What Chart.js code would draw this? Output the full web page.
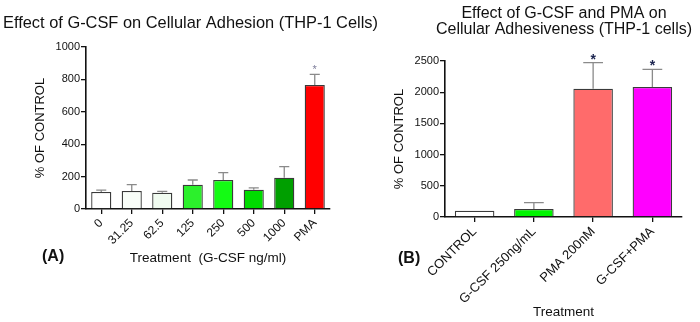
<!DOCTYPE html>
<html lang="en">
<head>
<meta charset="UTF-8">
<title>Effect of G-CSF on Cellular Adhesion</title>
<script src="https://cdn.jsdelivr.net/npm/chart.js"></script>
<style>
  body { margin: 0; background: #fff; }
  #wrap { position: relative; width: 700px; height: 322px; overflow: hidden; }
  .panel { position: absolute; top: 0; }
</style>
</head>
<body>
<div id="wrap">
  <div class="panel" style="left:0px"><canvas id="chartA" width="400" height="322"></canvas></div>
  <div class="panel" style="left:350px"><canvas id="chartB" width="350" height="322"></canvas></div>
</div>
<script>
// panel A: G-CSF dose series
const doseLabels = ['0', '31.25', '62.5', '125', '250', '500', '1000', 'PMA'];
const doseMeans = [105, 111, 100, 150, 179, 119, 193, 765];
const doseErrors = [12, 39, 9, 29, 45, 11, 68, 66];
const doseStars = ['', '', '', '', '', '', '', '*'];
const doseTicks = [0, 200, 400, 600, 800, 1000];

// panel B: G-CSF vs PMA
const treatLabels = ['CONTROL', 'G-CSF 250ng/mL', 'PMA 200nM', 'G-CSF+PMA'];
const treatMeans = [100, 128, 2055, 2085];
const treatErrors = [0, 103, 420, 280];
const treatStars = ['', '', '*', '*'];
const treatTicks = [0, 500, 1000, 1500, 2000, 2500];

const doseColors = ['#ffffff', '#f8fdf8', '#f0fbf0', '#2cf02c', '#14fb14', '#00dc00', '#009f00', '#ff0000'];
const treatColors = ['#ffffff', '#00f500', '#ff6b6b', '#ff00ff'];

Chart.defaults.font.family = '"Liberation Sans", Arial, sans-serif';
Chart.defaults.color = '#111';

// error bars (upper only), significance stars and free text
const annotate = {
  id: 'annotate',
  afterDatasetsDraw(chart, args, o) {
    const ctx = chart.ctx;
    const y = chart.scales.y;
    const ds = chart.data.datasets[0];
    const meta = chart.getDatasetMeta(0);
    ctx.save();
    meta.data.forEach((bar, i) => {
      const err = o.errors[i];
      const top = y.getPixelForValue(ds.data[i] + err);
      if (err > 0) {
        const half = bar.width * o.cap / 2;
        ctx.strokeStyle = '#8a8a8a';
        ctx.lineWidth = 1.3;
        ctx.beginPath();
        ctx.moveTo(bar.x, bar.y);
        ctx.lineTo(bar.x, top);
        ctx.moveTo(bar.x - half, top);
        ctx.lineTo(bar.x + half, top);
        ctx.stroke();
      }
      if (o.stars[i]) {
        ctx.fillStyle = o.starColor;
        ctx.font = o.starFont;
        ctx.textAlign = 'center';
        ctx.textBaseline = 'alphabetic';
        ctx.fillText(o.stars[i], bar.x, top + o.starShift);
      }
    });
    ctx.fillStyle = '#111';
    ctx.textBaseline = 'alphabetic';
    o.texts.forEach(t => {
      ctx.font = t.font;
      ctx.textAlign = t.align;
      ctx.fillText(t.text, t.x, t.y);
    });
    ctx.restore();
  }
};

function axes(ticks, yWidth, xHeight, xTitlePad, xFont) {
  return {
    x: {
      offset: true,
      afterFit: s => { s.height = xHeight; },
      border: { display: true, color: '#111', width: 1.6 },
      grid: { display: true, offset: false, drawOnChartArea: false, drawTicks: true, tickLength: 5, color: '#111', lineWidth: 1.3 },
      ticks: { minRotation: 45, maxRotation: 45, autoSkip: false, padding: 2, font: { size: xFont }, color: '#111' },
      title: { display: true, font: { size: 13.5 }, color: '#111', padding: { top: 4, bottom: xTitlePad } }
    },
    y: {
      min: ticks[0],
      max: ticks[ticks.length - 1],
      afterFit: s => { s.width = yWidth; },
      afterBuildTicks: s => { s.ticks = ticks.map(v => ({ value: v })); },
      border: { display: true, color: '#111', width: 1.6 },
      grid: { display: true, drawOnChartArea: false, drawTicks: true, tickLength: 5, color: '#111', lineWidth: 1.3 },
      ticks: { padding: 1, font: { size: 11 }, color: '#111', callback: v => String(v) },
      title: { display: true, text: '% OF CONTROL', font: { size: 13 }, color: '#111', padding: { top: 4, bottom: 4 } }
    }
  };
}

const chartA = new Chart(document.getElementById('chartA'), {
  type: 'bar',
  data: {
    labels: doseLabels,
    datasets: [{
      data: doseMeans,
      backgroundColor: doseColors,
      borderColor: '#3a3a3a',
      borderWidth: 1.3,
      barPercentage: 0.66,
      categoryPercentage: 1
    }]
  },
  options: {
    responsive: false,
    animation: false,
    layout: { padding: { left: 29, right: 70, top: 47, bottom: 52 } },
    scales: axes(doseTicks, 57, 61, 4, 12),
    plugins: {
      legend: { display: false },
      tooltip: { enabled: false },
      annotate: {
        errors: doseErrors,
        stars: doseStars,
        cap: 0.5,
        starColor: '#7d7d9a',
        starFont: '11px "Liberation Sans", Arial',
        starShift: -1.5,
        texts: [
          { text: 'Effect of G-CSF on Cellular Adhesion (THP-1 Cells)', x: 3, y: 28, align: 'left', font: '16.4px "Liberation Sans", Arial' },
          { text: '(A)', x: 42, y: 261, align: 'left', font: 'bold 16px "Liberation Sans", Arial' }
        ]
      }
    }
  },
  plugins: [annotate]
});
chartA.options.scales.x.title.text = 'Treatment  (G-CSF ng/ml)';
chartA.update();

const chartB = new Chart(document.getElementById('chartB'), {
  type: 'bar',
  data: {
    labels: treatLabels,
    datasets: [{
      data: treatMeans,
      backgroundColor: treatColors,
      borderColor: '#3a3a3a',
      borderWidth: 1.3,
      barPercentage: 0.667,
      categoryPercentage: 1
    }]
  },
  options: {
    responsive: false,
    animation: false,
    layout: { padding: { left: 38, right: 18, top: 61, bottom: 0 } },
    scales: axes(treatTicks, 57, 105, 2, 13),
    plugins: {
      legend: { display: false },
      tooltip: { enabled: false },
      annotate: {
        errors: treatErrors,
        stars: treatStars,
        cap: 0.5,
        starColor: '#1c2550',
        starFont: 'bold 14px "Liberation Sans", Arial',
        starShift: 1,
        texts: [
          { text: 'Effect of G-CSF and PMA on', x: 214, y: 18, align: 'center', font: '16px "Liberation Sans", Arial' },
          { text: 'Cellular Adhesiveness (THP-1 cells)', x: 214, y: 34, align: 'center', font: '16px "Liberation Sans", Arial' },
          { text: '(B)', x: 48, y: 263, align: 'left', font: 'bold 16px "Liberation Sans", Arial' }
        ]
      }
    }
  },
  plugins: [annotate]
});
chartB.options.scales.x.title.text = 'Treatment';
chartB.update();
</script>
</body>
</html>
